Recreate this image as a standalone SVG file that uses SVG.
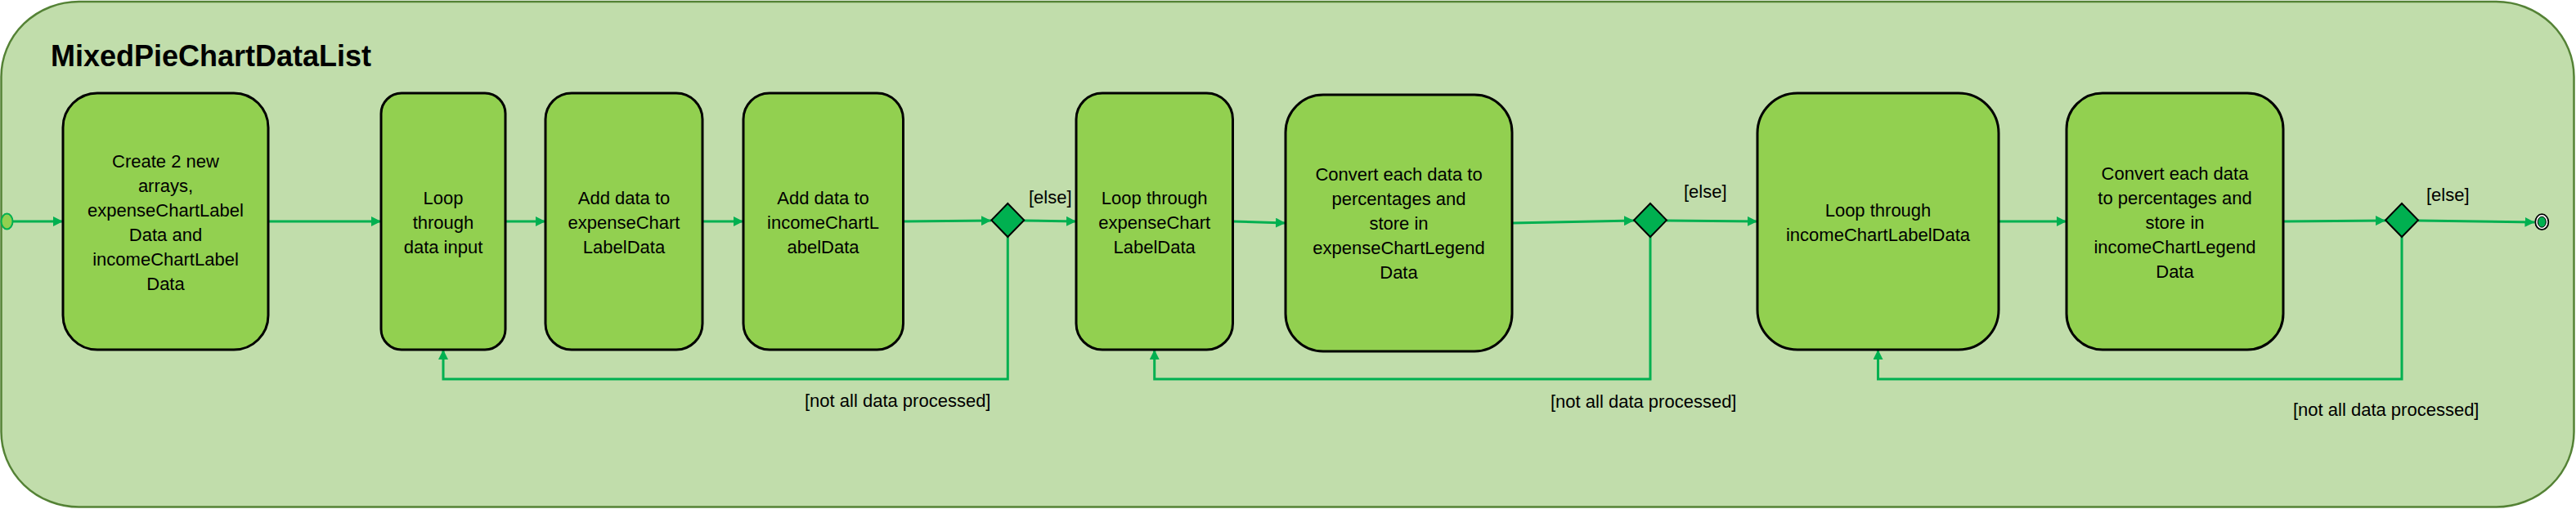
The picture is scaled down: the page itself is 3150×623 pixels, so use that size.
<svg xmlns="http://www.w3.org/2000/svg" width="3150" height="623" viewBox="0 0 3150 623">
<style>
.frame{fill:#C1DDAB;stroke:#548235;stroke-width:2.5}
.node{fill:#92D050;stroke:#000;stroke-width:3}
.dec{fill:#00B050;stroke:#000;stroke-width:2}
.t{font-family:"Liberation Sans",Arial,sans-serif;font-size:22px;fill:#000;text-anchor:middle}
.lbl{font-family:"Liberation Sans",Arial,sans-serif;font-size:22px;fill:#000}
.title{font-family:"Liberation Sans",Arial,sans-serif;font-size:36px;font-weight:bold;fill:#000}
.c{fill:none;stroke:#00B050;stroke-width:3}
</style>
<defs>
<marker id="arr" viewBox="0 0 12 12" refX="12" refY="6" markerWidth="12" markerHeight="12" markerUnits="userSpaceOnUse" orient="auto">
<path d="M0,0 L12,6 L0,12 Z" fill="#00B050"/>
</marker>
</defs>
<rect class="frame" x="1.5" y="2" width="3146" height="618.5" rx="95" ry="92"/>
<text class="title" x="62" y="81">MixedPieChartDataList</text>

<g id="connectors">
<path class="c" d="M15.5,271 L77,271" marker-end="url(#arr)"/>
<path class="c" d="M328,271 L466,271" marker-end="url(#arr)"/>
<path class="c" d="M618,271 L667,271" marker-end="url(#arr)"/>
<path class="c" d="M859,271 L909,271" marker-end="url(#arr)"/>
<path class="c" d="M1105,271 L1212,270" marker-end="url(#arr)"/>
<path class="c" d="M1252,270 L1316,271" marker-end="url(#arr)"/>
<path class="c" d="M1507.5,271 L1572,273" marker-end="url(#arr)"/>
<path class="c" d="M1849,273 L1998,270" marker-end="url(#arr)"/>
<path class="c" d="M2038,270 L2149,271" marker-end="url(#arr)"/>
<path class="c" d="M2444,271 L2527,271" marker-end="url(#arr)"/>
<path class="c" d="M2792,271 L2917,270" marker-end="url(#arr)"/>
<path class="c" d="M2957,270 L3099.5,272" marker-end="url(#arr)"/>
<path class="c" d="M1232.3,290 L1232.3,464 L542,464 L542,428" marker-end="url(#arr)"/>
<path class="c" d="M2018,290 L2018,464 L1411.7,464 L1411.7,428" marker-end="url(#arr)"/>
<path class="c" d="M2937,290 L2937,464 L2296.5,464 L2296.5,428" marker-end="url(#arr)"/>
<text class="lbl" x="1258" y="249">[else]</text>
<text class="lbl" x="2059" y="242">[else]</text>
<text class="lbl" x="2967" y="246">[else]</text>
<text class="lbl" x="984" y="498">[not all data processed]</text>
<text class="lbl" x="1896" y="499">[not all data processed]</text>
<text class="lbl" x="2804" y="509">[not all data processed]</text>
</g>

<g id="start">
<ellipse cx="8.5" cy="271" rx="7" ry="9.5" fill="#92D050" stroke="#00B050" stroke-width="2"/>
</g>

<g id="n1">
<rect class="node" x="77" y="114" width="251" height="314" rx="42" ry="42"/>
<text class="t" x="202.5" y="204.5">Create 2 new</text>
<text class="t" x="202.5" y="234.5">arrays,</text>
<text class="t" x="202.5" y="264.5">expenseChartLabel</text>
<text class="t" x="202.5" y="294.5">Data and</text>
<text class="t" x="202.5" y="324.5">incomeChartLabel</text>
<text class="t" x="202.5" y="354.5">Data</text>
</g>

<g id="n2">
<rect class="node" x="466" y="114" width="152" height="314" rx="25" ry="25"/>
<text class="t" x="542" y="249.5">Loop</text>
<text class="t" x="542" y="279.5">through</text>
<text class="t" x="542" y="309.5">data input</text>
</g>

<g id="n3">
<rect class="node" x="667" y="114" width="192" height="314" rx="32" ry="32"/>
<text class="t" x="763" y="249.5">Add data to</text>
<text class="t" x="763" y="279.5">expenseChart</text>
<text class="t" x="763" y="309.5">LabelData</text>
</g>

<g id="n4">
<rect class="node" x="909" y="114" width="195.5" height="314" rx="32" ry="32"/>
<text class="t" x="1006.5" y="249.5">Add data to</text>
<text class="t" x="1006.5" y="279.5">incomeChartL</text>
<text class="t" x="1006.5" y="309.5">abelData</text>
</g>

<g id="d1">
<path class="dec" d="M1232.3,249 L1252.3,269.5 L1232.3,290 L1212.3,269.5 Z"/>
</g>

<g id="n5">
<rect class="node" x="1316" y="114" width="191.5" height="314" rx="32" ry="32"/>
<text class="t" x="1411.7" y="249.5">Loop through</text>
<text class="t" x="1411.7" y="279.5">expenseChart</text>
<text class="t" x="1411.7" y="309.5">LabelData</text>
</g>

<g id="n6">
<rect class="node" x="1572" y="116" width="277" height="314" rx="46" ry="46"/>
<text class="t" x="1710.5" y="220.5">Convert each data to</text>
<text class="t" x="1710.5" y="250.5">percentages and</text>
<text class="t" x="1710.5" y="280.5">store in</text>
<text class="t" x="1710.5" y="310.5">expenseChartLegend</text>
<text class="t" x="1710.5" y="340.5">Data</text>
</g>

<g id="d2">
<path class="dec" d="M2018,249 L2038,269.5 L2018,290 L1998,269.5 Z"/>
</g>

<g id="n7">
<rect class="node" x="2149" y="114" width="295" height="314" rx="49" ry="49"/>
<text class="t" x="2296.5" y="264.5">Loop through</text>
<text class="t" x="2296.5" y="294.5">incomeChartLabelData</text>
</g>

<g id="n8">
<rect class="node" x="2527" y="114" width="265" height="314" rx="44" ry="44"/>
<text class="t" x="2659.5" y="219.5">Convert each data</text>
<text class="t" x="2659.5" y="249.5">to percentages and</text>
<text class="t" x="2659.5" y="279.5">store in</text>
<text class="t" x="2659.5" y="309.5">incomeChartLegend</text>
<text class="t" x="2659.5" y="339.5">Data</text>
</g>

<g id="d3">
<path class="dec" d="M2937,249 L2957,269.5 L2937,290 L2917,269.5 Z"/>
</g>

<g id="end">
<ellipse cx="3108.3" cy="271.7" rx="8" ry="9.5" fill="#fff" stroke="#000" stroke-width="1.8"/>
<ellipse cx="3108.3" cy="271.7" rx="5" ry="6.5" fill="#00B050" stroke="#000" stroke-width="1"/>
</g>
</svg>
